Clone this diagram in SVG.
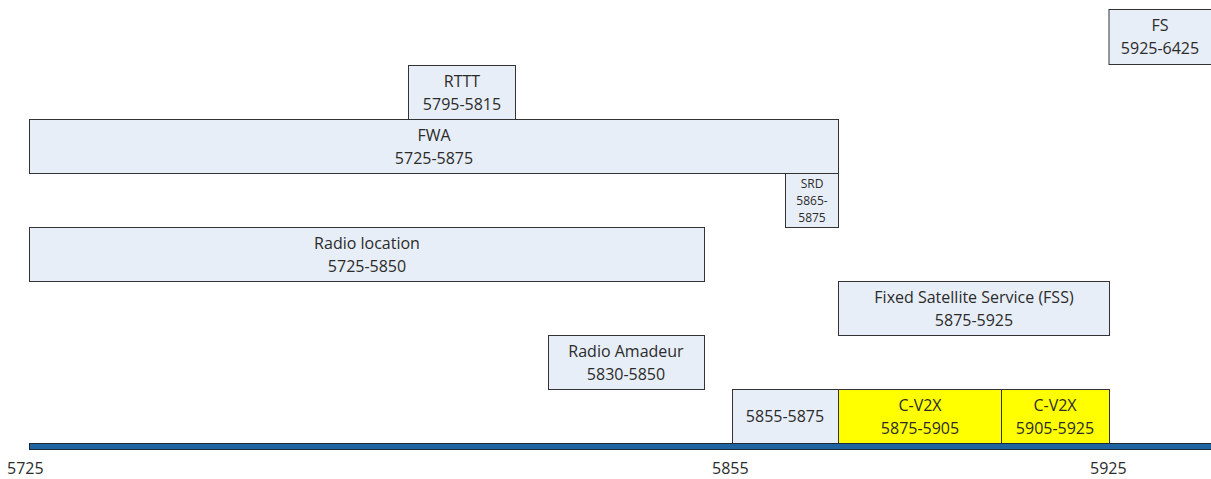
<svg xmlns="http://www.w3.org/2000/svg" width="1211" height="479" viewBox="0 0 1211 479">
<style>
.b{fill:#E8EEF7;stroke:#333;stroke-width:1}
.y{fill:#FFFF00;stroke:#333;stroke-width:1}
text{font-family:"Open Sans","Liberation Sans",sans-serif;font-size:16px;fill:#2b2b2b;text-anchor:middle}
.s{font-size:12px}
.a{text-anchor:start}
</style>
<rect width="1211" height="479" fill="#fff"/>
<g id="fs"><rect class="b" x="1109" y="9.5" width="106" height="55"/><text x="1160" y="31">FS</text><text x="1160" y="54">5925-6425</text></g>
<g id="rttt"><rect class="b" x="408.5" y="65.5" width="107" height="54"/><text x="462" y="87">RTTT</text><text x="462" y="110">5795-5815</text></g>
<g id="fwa"><rect class="b" x="29.5" y="119.5" width="809" height="54"/><text x="434" y="141">FWA</text><text x="434" y="164">5725-5875</text></g>
<g id="srd"><rect class="b" x="785.5" y="173.5" width="53" height="54"/><text class="s" x="812" y="188">SRD</text><text class="s" x="812" y="205">5865-</text><text class="s" x="812" y="222">5875</text></g>
<g id="radioloc"><rect class="b" x="29.5" y="227.5" width="675" height="54"/><text x="367" y="249">Radio location</text><text x="367" y="272">5725-5850</text></g>
<g id="fss"><rect class="b" x="838.5" y="281.5" width="271" height="54"/><text x="974" y="303">Fixed Satellite Service (FSS)</text><text x="974" y="326">5875-5925</text></g>
<g id="amadeur"><rect class="b" x="548.5" y="335.5" width="156" height="54"/><text x="626" y="357">Radio Amadeur</text><text x="626" y="380">5830-5850</text></g>
<g id="b5855"><rect class="b" x="732.5" y="389.5" width="106" height="54"/><text x="785" y="422">5855-5875</text></g>
<g id="cv2x1"><rect class="y" x="838.5" y="389.5" width="163" height="54"/><text x="920" y="411">C-V2X</text><text x="920" y="434">5875-5905</text></g>
<g id="cv2x2"><rect class="y" x="1001.5" y="389.5" width="108" height="54"/><text x="1055" y="411">C-V2X</text><text x="1055" y="434">5905-5925</text></g>
<g id="connectors"><rect x="29.5" y="443.5" width="1190" height="6" fill="#1F64A0" stroke="#1a2a3a" stroke-width="1"/></g>
<g id="axis"><text class="a" x="7" y="474">5725</text><text class="a" x="712" y="474">5855</text><text class="a" x="1090" y="474">5925</text></g>
</svg>
